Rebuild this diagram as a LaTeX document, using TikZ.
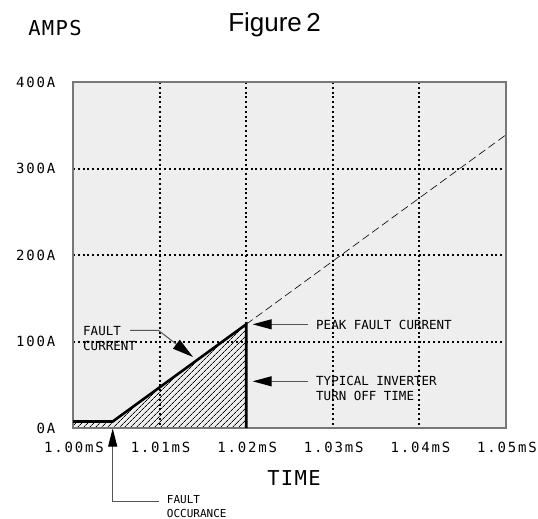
\documentclass[tikz,border=0pt]{standalone}
\usepackage{fontspec}
\setmainfont{Liberation Sans}
\newfontfamily\cadfont{DejaVu Sans Mono}
\newfontfamily\cadtick[LetterSpace=13]{DejaVu Sans Mono}
\newfontfamily\cadbig[LetterSpace=6.5]{DejaVu Sans Mono}
\usetikzlibrary{arrows.meta,patterns.meta}
\definecolor{plotbg}{RGB}{238,238,238}
\definecolor{framegray}{RGB}{120,120,120}
\definecolor{leadgray}{RGB}{85,85,85}
\tikzset{
  gridline/.style={black,line width=2pt,dash pattern=on 2pt off 2.8pt},
  plotframe/.style={draw=framegray,line width=1.3pt},
  curve/.style={black,line width=2.6pt,line join=miter},
  extrap/.style={black,line width=0.6pt,dash pattern=on 8pt off 4pt},
  leader/.style={leadgray,line width=1pt,-{Triangle[length=19pt,width=10pt,color=black]}},
  ticklab/.style={font=\cadtick\fontsize{14}{16}\selectfont,inner sep=0pt},
  ylab/.style={font=\cadtick\fontsize{14}{16}\selectfont,inner sep=0pt,anchor=east},
  biglab/.style={font=\cadbig\fontsize{20.5}{22}\selectfont,inner sep=0pt},
  anno/.style={font=\cadfont\fontsize{12.5}{14}\selectfont,inner sep=0pt,anchor=west},
  annosmall/.style={font=\cadfont\fontsize{11}{13}\selectfont,inner sep=0pt,anchor=west},
}
\begin{document}
\begin{tikzpicture}[x=1pt,y=-1pt]
\useasboundingbox (0,0) rectangle (538,519);
\fill[white] (0,0) rectangle (538,519);
% plot area
\fill[plotbg] (73,82) rectangle (506,428);
\fill[pattern={Lines[angle=45,distance=4pt,line width=0.75pt]},pattern color=black]
  (73,428) -- (73,421.5) -- (112.7,421.5) -- (246.2,324.3) -- (246.2,428) -- cycle;
% grid
\foreach \x in {159.6,246.2,332.8,419.4} \draw[gridline] (\x,82) -- (\x,428);
\foreach \y in {168.5,255,341.5} \draw[gridline] (73,\y) -- (506,\y);
\draw[plotframe] (73,82) rectangle (506,428);
% curve
\draw[extrap] (246.2,324.3) -- (506,134.8);
\draw[curve] (73,421.5) -- (112.7,421.5) -- (246.2,324.3) -- (246.2,428);
% titles
\node[font=\fontsize{26}{28}\selectfont,inner sep=0pt] (title) at (274.5,24.5) {Figure\,2};
\node[biglab] (amps) at (55,28.5) {AMPS};
\node[biglab] (time) at (294,478) {TIME};
% y labels
\node[ylab] (y400) at (55.5,82.5) {400A};
\node[ylab] (y300) at (55.5,168.5) {300A};
\node[ylab] (y200) at (55.5,255) {200A};
\node[ylab] (y100) at (55.5,341.5) {100A};
\node[ylab] (y0) at (55.5,428.5) {0A};
% x labels
\node[ticklab] (x0) at (74,447) {1.00mS};
\node[ticklab] (x1) at (160.6,447) {1.01mS};
\node[ticklab] (x2) at (247.2,447) {1.02mS};
\node[ticklab] (x3) at (333.8,447) {1.03mS};
\node[ticklab] (x4) at (420.4,447) {1.04mS};
\node[ticklab] (x5) at (507,447) {1.05mS};
% fault current annotation
\node[anno] (fc1) at (83,331.3) {FAULT};
\node[anno] (fc2) at (83,345.5) {CURRENT};
\coordinate (fcstart) at (130,330.3);
\coordinate (fcbend) at (158.3,330.3);
\coordinate (fctip) at (193,357);
\draw[leader,-{Triangle[length=21pt,width=11pt,color=black]}] (fcstart) -- (fcbend) -- (fctip);
% peak annotation
\node[anno] (pk) at (316,324.7) {PEAK FAULT CURRENT};
\coordinate (pkstart) at (308.3,324.3);
\coordinate (pktip) at (252.7,324.3);
\draw[leader] (pkstart) -- (pktip);
% turn off annotation
\node[anno] (to1) at (316,381.3) {TYPICAL INVERTER};
\node[anno] (to2) at (316,395.7) {TURN OFF TIME};
\coordinate (tostart) at (308.3,381.3);
\coordinate (totip) at (252.7,381.3);
\draw[leader] (tostart) -- (totip);
% fault occurance
\node[annosmall] (fo1) at (166.7,500) {FAULT};
\node[annosmall] (fo2) at (166.7,513.5) {OCCURANCE};
\coordinate (foend) at (159,501.7);
\coordinate (fobend) at (112.7,501.7);
\coordinate (fotip) at (112.7,428.5);
\draw[leader,-{Triangle[length=18pt,width=9pt,color=black]}] (foend) -- (fobend) -- (fotip);
\end{tikzpicture}
\end{document}
